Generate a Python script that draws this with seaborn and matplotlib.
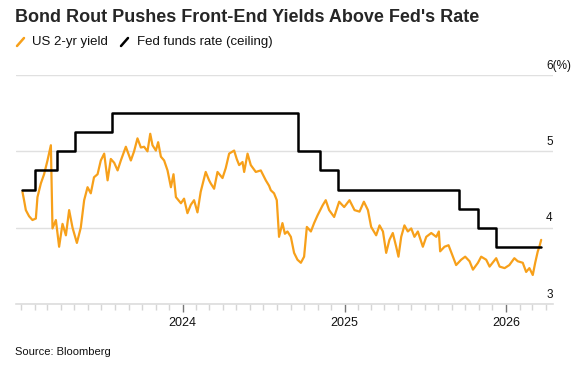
import numpy as np
import pandas as pd
import seaborn as sns
import matplotlib.pyplot as plt
import matplotlib.dates as mdates
from matplotlib.transforms import ScaledTranslation
from matplotlib.lines import Line2D

# US 2-yr yield (decimal year, percent)
yield_years = [2023.007, 2023.017, 2023.028, 2023.048, 2023.069, 2023.090, 2023.100, 2023.121,
               2023.141, 2023.162, 2023.183, 2023.193, 2023.214, 2023.234, 2023.255, 2023.276,
               2023.296, 2023.317, 2023.344, 2023.368, 2023.389, 2023.410, 2023.430, 2023.450,
               2023.472, 2023.492, 2023.513, 2023.534, 2023.554, 2023.575, 2023.596, 2023.616,
               2023.647, 2023.678, 2023.698, 2023.719, 2023.740, 2023.760, 2023.781, 2023.798,
               2023.812, 2023.833, 2023.847, 2023.864, 2023.884, 2023.905, 2023.926, 2023.942,
               2023.957, 2023.988, 2024.008, 2024.029, 2024.050, 2024.070, 2024.091, 2024.111,
               2024.142, 2024.163, 2024.173, 2024.194, 2024.215, 2024.246, 2024.266, 2024.287,
               2024.318, 2024.334, 2024.349, 2024.370, 2024.380, 2024.401, 2024.421, 2024.452,
               2024.483, 2024.514, 2024.534, 2024.545, 2024.565, 2024.582, 2024.596, 2024.617,
               2024.632, 2024.648, 2024.669, 2024.689, 2024.710, 2024.731, 2024.751, 2024.768,
               2024.793, 2024.813, 2024.834, 2024.865, 2024.885, 2024.906, 2024.937, 2024.968,
               2024.999, 2025.030, 2025.061, 2025.092, 2025.119, 2025.144, 2025.164, 2025.195,
               2025.216, 2025.237, 2025.257, 2025.277, 2025.298, 2025.319, 2025.333, 2025.350,
               2025.370, 2025.391, 2025.412, 2025.432, 2025.453, 2025.484, 2025.505, 2025.536,
               2025.567, 2025.583, 2025.591, 2025.618, 2025.643, 2025.670, 2025.690, 2025.721,
               2025.746, 2025.773, 2025.794, 2025.825, 2025.845, 2025.876, 2025.897, 2025.938,
               2025.959, 2025.990, 2026.020, 2026.051, 2026.072, 2026.103, 2026.124, 2026.144,
               2026.165, 2026.180, 2026.196, 2026.206, 2026.217]
yield_values = [4.47, 4.36, 4.23, 4.15, 4.10, 4.12, 4.40, 4.58,
                4.70, 4.88, 5.08, 3.99, 4.10, 3.75, 4.05, 3.90,
                4.23, 4.00, 3.80, 4.00, 4.36, 4.53, 4.45, 4.66,
                4.70, 4.88, 4.97, 4.62, 4.90, 4.85, 4.75, 4.88,
                5.06, 4.88, 5.00, 5.17, 5.05, 5.06, 5.00, 5.23,
                5.08, 5.01, 5.12, 4.93, 4.88, 4.75, 4.53, 4.70,
                4.40, 4.32, 4.38, 4.19, 4.30, 4.36, 4.20, 4.47,
                4.73, 4.62, 4.58, 4.51, 4.73, 4.65, 4.78, 4.97,
                5.01, 4.90, 4.82, 4.86, 4.73, 4.97, 4.82, 4.73,
                4.75, 4.62, 4.55, 4.49, 4.45, 4.36, 3.88, 4.06,
                3.92, 3.95, 3.88, 3.67, 3.58, 3.54, 3.62, 4.01,
                3.95, 4.06, 4.16, 4.29, 4.36, 4.23, 4.14, 4.34,
                4.27, 4.36, 4.23, 4.21, 4.34, 4.23, 4.01, 3.90,
                4.03, 3.95, 3.67, 3.84, 3.93, 3.75, 3.62, 3.88,
                4.03, 3.95, 3.99, 3.88, 3.95, 3.75, 3.88, 3.93,
                3.88, 3.95, 3.69, 3.75, 3.77, 3.62, 3.51, 3.58,
                3.62, 3.56, 3.45, 3.54, 3.62, 3.58, 3.49, 3.60,
                3.49, 3.47, 3.51, 3.60, 3.56, 3.54, 3.42, 3.47,
                3.38, 3.54, 3.69, 3.75, 3.84]

# Fed funds target ceiling, by decision date
fed_dates = ['2023-01-03', '2023-02-01', '2023-03-22', '2023-05-03', '2023-07-26',
             '2024-09-18', '2024-11-07', '2024-12-18', '2025-09-17', '2025-10-29',
             '2025-12-10', '2026-03-20']
fed_values = [4.50, 4.75, 5.00, 5.25, 5.50, 5.00, 4.75, 4.50, 4.25, 4.00, 3.75, 3.75]

y_ticks = [3, 4, 5, 6]
y_tick_labels = ['3', '4', '5', '6(%)']
x_years = ['2024', '2025', '2026']


def dec_to_date(y):
    yr = int(y)
    start = pd.Timestamp(f'{yr}-01-01')
    return start + pd.Timedelta(days=(y - yr) * 365.25)


ylds = pd.DataFrame({'date': [dec_to_date(v) for v in yield_years], 'value': yield_values})
fed = pd.DataFrame({'date': pd.to_datetime(fed_dates), 'value': fed_values})

sns.set_style('white')
plt.rcParams['font.family'] = ['Liberation Sans', 'DejaVu Sans']

orange = '#F7A01A'
fig = plt.figure(figsize=(5.84, 3.68), dpi=100)
ax = fig.add_axes([16 / 584, 1 - 304 / 368, (553 - 16) / 584, (304 - 75) / 368])

sns.lineplot(data=ylds, x='date', y='value', ax=ax, color=orange, lw=1.6)
sns.lineplot(data=fed, x='date', y='value', ax=ax, color='black', lw=1.8, drawstyle='steps-post')

ax.set_xlim(pd.Timestamp('2022-12-20'), pd.Timestamp('2026-04-17'))
ax.set_ylim(3, 6)
ax.set_xlabel('')
ax.set_ylabel('')

for s in ['top', 'left', 'right']:
    ax.spines[s].set_visible(False)
ax.spines['bottom'].set_color('#dddddd')
ax.spines['bottom'].set_linewidth(1.2)

# y axis: labels on the right, sitting above the gridlines
ax.set_yticks(y_ticks)
ax.set_yticklabels(y_tick_labels)
ax.grid(axis='y', color='#e0e0e0', lw=1)
ax.tick_params(axis='y', left=False, labelleft=False, right=False, labelright=True,
               length=0, pad=-5, labelsize=8.5, labelcolor='#111111')
off = ScaledTranslation(0, 2.5 / 72, fig.dpi_scale_trans)
for lab in ax.get_yticklabels():
    lab.set_horizontalalignment('left')
    lab.set_verticalalignment('bottom')
    lab.set_transform(lab.get_transform() + off)

# x axis: yearly labels, monthly minor ticks
ax.set_xticks([pd.Timestamp(f'{y}-01-01') for y in x_years])
ax.set_xticklabels(x_years)
ax.xaxis.set_minor_locator(mdates.MonthLocator())
ax.tick_params(axis='x', which='major', bottom=True, length=6, width=1, color='#777777',
               labelsize=9, pad=3, labelcolor='#111111')
ax.tick_params(axis='x', which='minor', bottom=True, length=4, width=1, color='#d5d5d5')

fig.text(15 / 584, 1 - 18 / 368, "Bond Rout Pushes Front-End Yields Above Fed's Rate",
         fontsize=13, fontweight='bold', va='center', ha='left')

leg_y = 1 - 42 / 368
fig.text(32 / 584, leg_y, 'US 2-yr yield', fontsize=9.5, va='center', ha='left', color='#111111')
fig.text(137 / 584, leg_y, 'Fed funds rate (ceiling)', fontsize=9.5, va='center', ha='left', color='#111111')
fig.add_artist(Line2D([17 / 584, 24 / 584], [leg_y - 4 / 368, leg_y + 4 / 368], color=orange, lw=1.8))
fig.add_artist(Line2D([121 / 584, 128 / 584], [leg_y - 4 / 368, leg_y + 4 / 368], color='black', lw=1.8))

fig.text(15 / 584, 1 - 352 / 368, 'Source: Bloomberg', fontsize=8, va='center', ha='left', color='#111111')

fig.savefig('out.png', dpi=100)
